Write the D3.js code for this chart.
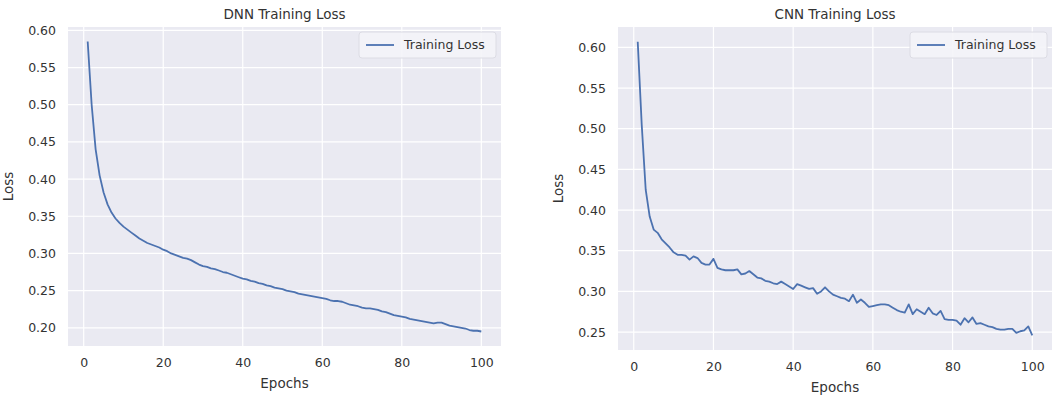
<!DOCTYPE html>
<html>
<head>
<meta charset="utf-8">
<script src="https://cdn.jsdelivr.net/npm/d3@7"></script>
<style>
  body { margin: 0; background: #fff; }
  text { font-family: "DejaVu Sans", sans-serif; fill: #333; }
</style>
</head>
<body>
<div id="chart"></div>
<script>
const width = 1056,
      height = 397;

// loss per epoch (epochs 1..100)
const dnnLoss = [
  0.585, 0.500, 0.440, 0.405, 0.382, 0.366, 0.355, 0.347, 0.341, 0.336,
  0.332, 0.328, 0.324, 0.320, 0.317, 0.314, 0.312, 0.310, 0.308, 0.305,
  0.303, 0.300, 0.298, 0.296, 0.294, 0.293, 0.291, 0.288, 0.285, 0.283,
  0.282, 0.280, 0.279, 0.277, 0.275, 0.274, 0.272, 0.270, 0.268, 0.266,
  0.265, 0.263, 0.262, 0.260, 0.259, 0.257, 0.256, 0.254, 0.253, 0.252,
  0.250, 0.249, 0.248, 0.246, 0.245, 0.244, 0.243, 0.242, 0.241, 0.240,
  0.239, 0.237, 0.236, 0.236, 0.235, 0.233, 0.231, 0.230, 0.229, 0.227,
  0.226, 0.226, 0.225, 0.224, 0.222, 0.221, 0.219, 0.217, 0.216, 0.215,
  0.214, 0.212, 0.211, 0.210, 0.209, 0.208, 0.207, 0.206, 0.207, 0.207,
  0.205, 0.203, 0.202, 0.201, 0.200, 0.199, 0.197, 0.196, 0.196, 0.195
];

const cnnLoss = [
  0.607, 0.505, 0.425, 0.392, 0.376, 0.372, 0.364, 0.359, 0.354, 0.348,
  0.345, 0.345, 0.344, 0.339, 0.343, 0.341, 0.335, 0.333, 0.333, 0.340,
  0.329, 0.327, 0.326, 0.326, 0.326, 0.327, 0.321, 0.322, 0.325, 0.321,
  0.317, 0.316, 0.313, 0.312, 0.310, 0.309, 0.312, 0.309, 0.306, 0.303,
  0.309, 0.307, 0.305, 0.303, 0.304, 0.297, 0.300, 0.305, 0.300, 0.296,
  0.294, 0.292, 0.291, 0.288, 0.296, 0.286, 0.290, 0.286, 0.281, 0.282,
  0.283, 0.284, 0.284, 0.283, 0.280, 0.277, 0.275, 0.274, 0.284, 0.272,
  0.278, 0.275, 0.272, 0.280, 0.273, 0.271, 0.276, 0.266, 0.265, 0.265,
  0.264, 0.259, 0.267, 0.262, 0.268, 0.260, 0.261, 0.259, 0.257, 0.256,
  0.254, 0.253, 0.253, 0.254, 0.254, 0.249, 0.251, 0.252, 0.257, 0.246
];

const xTicks = [0, 20, 40, 60, 80, 100],
      dnnTicks = [0.20, 0.25, 0.30, 0.35, 0.40, 0.45, 0.50, 0.55, 0.60],
      cnnTicks = [0.25, 0.30, 0.35, 0.40, 0.45, 0.50, 0.55, 0.60];

const titles = ['DNN Training Loss', 'CNN Training Loss'],
      legendLabel = 'Training Loss',
      xLabel = 'Epochs',
      yLabel = 'Loss';

const lineColor = '#4c72b0';

const svg = d3.select('#chart').append('svg')
    .attr('width', width)
    .attr('height', height);

// pad a data range by 5% on each side, like matplotlib does
function padded(ext) {
  const m = (ext[1] - ext[0]) * 0.05;
  return [ext[0] - m, ext[1] + m];
}

function drawPanel(opt) {
  const data = opt.values.map((v, i) => ({ epoch: i + 1, loss: v }));

  const xScale = d3.scaleLinear()
      .domain(padded(d3.extent(data, d => d.epoch)))
      .range([opt.left, opt.right]);
  const yScale = d3.scaleLinear()
      .domain(padded(d3.extent(data, d => d.loss)))
      .range([opt.bottom, opt.top]);

  const g = svg.append('g');

  g.append('rect')
    .attr('x', opt.left)
    .attr('y', opt.top)
    .attr('width', opt.right - opt.left)
    .attr('height', opt.bottom - opt.top)
    .attr('fill', '#eaeaf2');

  // grid
  g.selectAll('.vgrid')
    .data(xTicks)
    .enter().append('line')
      .attr('x1', d => xScale(d))
      .attr('x2', d => xScale(d))
      .attr('y1', opt.top)
      .attr('y2', opt.bottom)
      .attr('stroke', '#fff')
      .attr('stroke-width', 1.2);

  g.selectAll('.hgrid')
    .data(opt.yTicks)
    .enter().append('line')
      .attr('x1', opt.left)
      .attr('x2', opt.right)
      .attr('y1', d => yScale(d))
      .attr('y2', d => yScale(d))
      .attr('stroke', '#fff')
      .attr('stroke-width', 1.2);

  // axes (no tick marks, seaborn darkgrid style)
  const xAxis = g.append('g')
      .attr('transform', `translate(0, ${opt.bottom})`)
      .call(d3.axisBottom(xScale).tickValues(xTicks).tickSize(0).tickPadding(12));
  const yAxis = g.append('g')
      .attr('transform', `translate(${opt.left}, 0)`)
      .call(d3.axisLeft(yScale).tickValues(opt.yTicks).tickSize(0).tickPadding(12)
        .tickFormat(d3.format('.2f')));

  [xAxis, yAxis].forEach(a => {
    a.select('.domain').remove();
    a.selectAll('text')
      .attr('font-size', 12.5)
      .attr('font-family', 'DejaVu Sans, sans-serif')
      .attr('fill', '#3a3a3a');
  });

  const line = d3.line()
      .x(d => xScale(d.epoch))
      .y(d => yScale(d.loss));

  g.append('path')
    .datum(data)
    .attr('d', line)
    .attr('fill', 'none')
    .attr('stroke', lineColor)
    .attr('stroke-width', 1.8)
    .attr('stroke-linejoin', 'round');

  // labels
  g.append('text')
    .attr('x', (opt.left + opt.right) / 2)
    .attr('y', opt.top - 8)
    .attr('text-anchor', 'middle')
    .attr('font-size', 13.5)
    .text(opt.title);

  g.append('text')
    .attr('x', (opt.left + opt.right) / 2)
    .attr('y', opt.bottom + 42)
    .attr('text-anchor', 'middle')
    .attr('font-size', 13.5)
    .text(xLabel);

  g.append('text')
    .attr('transform', `translate(${opt.left - 55}, ${(opt.top + opt.bottom) / 2}) rotate(-90)`)
    .attr('text-anchor', 'middle')
    .attr('font-size', 13.5)
    .text(yLabel);

  // legend
  const lw = 137, lh = 26;
  const lg = g.append('g')
      .attr('transform', `translate(${opt.right - 5 - lw}, ${opt.top + 5})`);
  lg.append('rect')
    .attr('width', lw)
    .attr('height', lh)
    .attr('rx', 3)
    .attr('fill', '#f4f4f8')
    .attr('fill-opacity', 0.9)
    .attr('stroke', '#dcdce4');
  lg.append('line')
    .attr('x1', 7).attr('x2', 35)
    .attr('y1', lh / 2).attr('y2', lh / 2)
    .attr('stroke', lineColor)
    .attr('stroke-width', 1.8);
  lg.append('text')
    .attr('x', 45)
    .attr('y', lh / 2)
    .attr('dy', '0.35em')
    .attr('font-size', 12.5)
    .text(legendLabel);
}

drawPanel({ values: dnnLoss, yTicks: dnnTicks, title: titles[0],
            left: 68, right: 501, top: 27, bottom: 346 });
drawPanel({ values: cnnLoss, yTicks: cnnTicks, title: titles[1],
            left: 618, right: 1052, top: 27, bottom: 350 });
</script>
</body>
</html>
